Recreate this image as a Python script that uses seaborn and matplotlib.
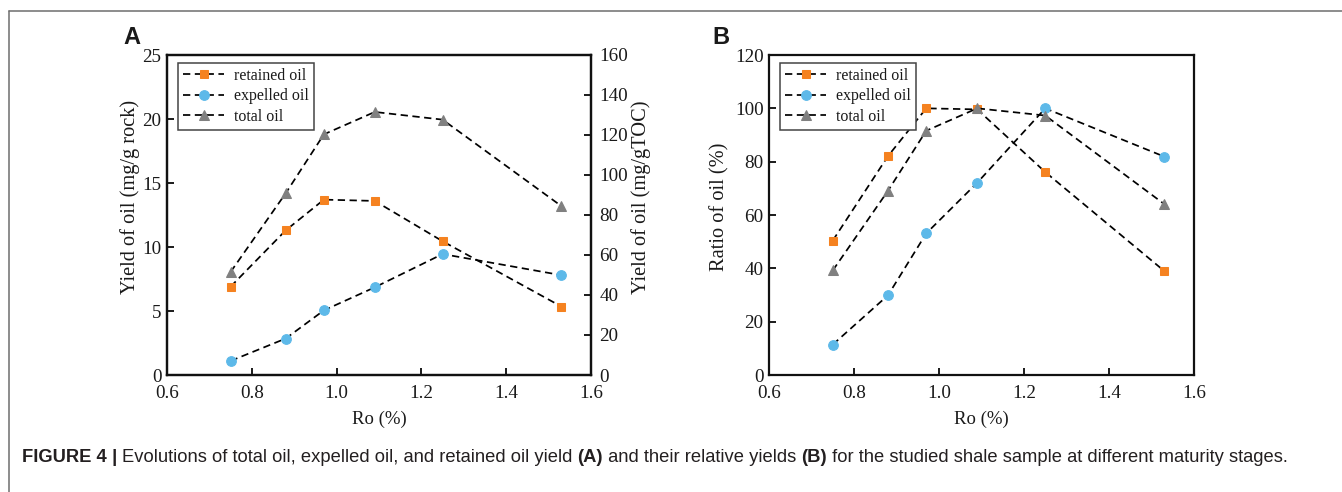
import matplotlib
matplotlib.use("Agg")
import matplotlib.pyplot as plt
import seaborn as sns
import pandas as pd
from matplotlib.lines import Line2D

# ---------------- data ----------------
ro = [0.75, 0.88, 0.97, 1.09, 1.25, 1.53]
retained_yield = [6.9, 11.3, 13.7, 13.6, 10.45, 5.35]
expelled_yield = [1.1, 2.85, 5.05, 6.85, 9.45, 7.8]
total_yield = [8.05, 14.2, 18.8, 20.55, 19.95, 13.2]
retained_ratio = [50.4, 82.1, 100.0, 99.6, 76.1, 39.0]
expelled_ratio = [11.4, 29.9, 53.1, 72.1, 100.0, 81.9]
total_ratio = [39.2, 69.1, 91.6, 100.0, 97.3, 64.1]
series_names = ["retained oil", "expelled oil", "total oil"]
x_ticks = [0.6, 0.8, 1.0, 1.2, 1.4, 1.6]
ya_ticks = [0, 5, 10, 15, 20, 25]
ya2_ticks = [0, 20, 40, 60, 80, 100, 120, 140, 160]
yb_ticks = [0, 20, 40, 60, 80, 100, 120]

# ---------------- style ----------------
sns.set_style("ticks")
plt.rcParams["font.family"] = ["Liberation Serif", "DejaVu Serif"]
plt.rcParams["axes.linewidth"] = 1.6
plt.rcParams["text.color"] = "#1a1a1a"
plt.rcParams["axes.labelcolor"] = "#1a1a1a"
plt.rcParams["xtick.color"] = "#1a1a1a"
plt.rcParams["ytick.color"] = "#1a1a1a"

colors = ["#F58220", "#5DB9E9", "#808080"]
markers = ["s", "o", "^"]
msizes = [6.3, 7.0, 7.2]
dash = (0, (4.2, 2.6))

W, H = 1342, 492
fig = plt.figure(figsize=(W / 100, H / 100), dpi=100)


def fx(px):
    return px / W


def fy(py):
    return 1 - py / H


axA = fig.add_axes([fx(167), fy(375), fx(591) - fx(167), fy(55) - fy(375)])
axB = fig.add_axes([fx(769), fy(375), fx(1194) - fx(769), fy(55) - fy(375)])

TICK_FS = 13.8
XLAB_FS = 13.5
YLAB_FS = 14.7


def draw_panel(ax, ys):
    for name, vals, c, m, ms in zip(series_names, ys, colors, markers, msizes):
        df = pd.DataFrame({"Ro": ro, "val": vals})
        sns.lineplot(data=df, x="Ro", y="val", ax=ax, color="black",
                     linestyle=dash, lw=1.25, marker=m, markersize=ms,
                     markerfacecolor=c, markeredgecolor=c, label=name,
                     zorder=3)
    ax.set_xlim(0.6, 1.6)
    ax.set_xticks(x_ticks)
    ax.set_xticklabels([f"{v:.1f}" for v in x_ticks], fontsize=TICK_FS)
    ax.tick_params(direction="in", length=5, width=1.4)
    ax.tick_params(axis="x", pad=7.5)
    ax.tick_params(axis="y", pad=4)
    ax.set_xlabel("Ro (%)", fontsize=XLAB_FS, labelpad=6)
    leg = ax.legend(loc="upper left", bbox_to_anchor=(0.026, 0.975),
                    fontsize=11.5, frameon=True, fancybox=False,
                    edgecolor="#444444", framealpha=1, handlelength=2.6,
                    handletextpad=0.6, labelspacing=0.28, borderpad=0.3,
                    borderaxespad=0)
    leg.get_frame().set_linewidth(1.1)
    for s in ax.spines.values():
        s.set_visible(True)
        s.set_color("#111111")


draw_panel(axA, [retained_yield, expelled_yield, total_yield])
axA.set_ylim(0, 25)
axA.set_yticks(ya_ticks)
axA.set_yticklabels([str(v) for v in ya_ticks], fontsize=TICK_FS)
axA.set_ylabel("Yield of oil (mg/g rock)", fontsize=YLAB_FS, labelpad=1.5)
axA.yaxis.label.set_y(0.555)

axA2 = axA.twinx()
axA2.set_ylim(0, 160)
axA2.set_yticks(ya2_ticks)
axA2.set_yticklabels([str(v) for v in ya2_ticks], fontsize=TICK_FS)
axA2.tick_params(direction="in", length=5, width=1.4, pad=6)
axA2.set_ylabel("Yield of oil (mg/gTOC)", fontsize=YLAB_FS, rotation=90, labelpad=2.5)
axA2.yaxis.label.set_y(0.555)
for s in axA2.spines.values():
    s.set_color("#111111")

draw_panel(axB, [retained_ratio, expelled_ratio, total_ratio])
axB.set_ylim(0, 120)
axB.set_yticks(yb_ticks)
axB.set_yticklabels([str(v) for v in yb_ticks], fontsize=TICK_FS)
axB.set_ylabel("Ratio of oil (%)", fontsize=YLAB_FS, labelpad=4)
axB.yaxis.label.set_y(0.525)

# panel letters
fig.text(fx(132), fy(38), "A", fontsize=17, fontweight="bold",
         family=["Liberation Sans", "DejaVu Sans"], ha="center", va="center")
fig.text(fx(721), fy(38), "B", fontsize=17, fontweight="bold",
         family=["Liberation Sans", "DejaVu Sans"], ha="center", va="center")

# frame lines (top and left)
fig.add_artist(Line2D([fx(9), fx(9)], [0, fy(11)], transform=fig.transFigure,
                      color="#6e6e6e", lw=1.1))
fig.add_artist(Line2D([fx(9), 1], [fy(11), fy(11)], transform=fig.transFigure,
                      color="#6e6e6e", lw=1.1))

# caption built from pieces
cap_pieces = [
    ("FIGURE 4", "bold"),
    (" | ", "bold"),
    ("Evolutions of total oil, expelled oil, and retained oil yield ", "normal"),
    ("(A)", "bold"),
    (" and their relative yields ", "normal"),
    ("(B)", "bold"),
    (" for the studied shale sample at different maturity stages.", "normal"),
]
renderer = fig.canvas.get_renderer()
xpos = 22
for txt, wt in cap_pieces:
    t = fig.text(fx(xpos), fy(457), txt, fontsize=13.2, fontweight=wt,
                 family=["Liberation Sans", "DejaVu Sans"], ha="left",
                 va="center", color="#231F20")
    bb = t.get_window_extent(renderer=renderer)
    xpos += bb.width

fig.savefig("out.png", dpi=100)
